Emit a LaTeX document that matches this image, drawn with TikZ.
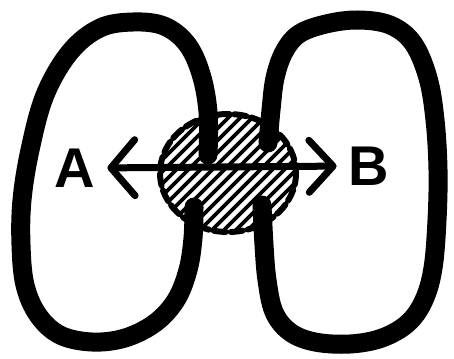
\documentclass[tikz,border=0pt]{standalone}
\usepackage{fontspec}
\setsansfont{Liberation Sans}
\usetikzlibrary{arrows.meta}
\tikzset{
  lobe/.style={line width=19pt, line cap=round, line join=round},
  hatch/.style={line width=3.6pt, line cap=round},
  ring/.style={line width=6pt, dash pattern=on 12pt off 5pt, line cap=round},
  arrowline/.style={line width=7pt, line cap=round,
    arrows={Straight Barb[length=24pt,width=56pt,round]-Straight Barb[length=24pt,width=52pt,round]}},
  letter/.style={font=\sffamily\bfseries\fontsize{56}{56}\selectfont, inner sep=0pt}
}
\begin{document}
\begin{tikzpicture}[x=1pt, y=-1pt]
  \useasboundingbox (0,0) rectangle (454,358);
  \coordinate (c) at (228,173);
  \begin{scope}
    \clip (c) ellipse [x radius=69, y radius=60];
    \foreach \i in {-20,-8,...,300}
      \draw[hatch] (\i,270) -- ++(180,-180);
  \end{scope}
  \draw[ring] (c) ellipse [x radius=68, y radius=59];
  \draw[lobe] plot[smooth, tension=0.6] coordinates {(208,155) (208,112) (201,74) (187,44) (164,26) (133,22) (100,28) (70,52) (45,95) (30,150) (22,200) (21,245) (25,285) (38,315) (60,335) (92,342) (125,338) (155,323) (176,300) (188,270) (193,238) (194,207)};
  \draw[lobe] plot[smooth, tension=0.6] coordinates {(268,143) (271,110) (275,78) (284,52) (299,34) (326,24) (358,20) (390,25) (413,43) (428,78) (435,120) (438,170) (437,220) (433,268) (424,300) (408,323) (382,338) (350,344) (315,342) (290,332) (274,312) (267,280) (264,245) (262,205)};
  \node[letter] (A) at (75,168) {A};
  \node[letter] (B) at (369,166) {B};
  \draw[arrowline, shorten <=12pt, shorten >=12pt] (A.east) -- (B.west);
\end{tikzpicture}
\end{document}
